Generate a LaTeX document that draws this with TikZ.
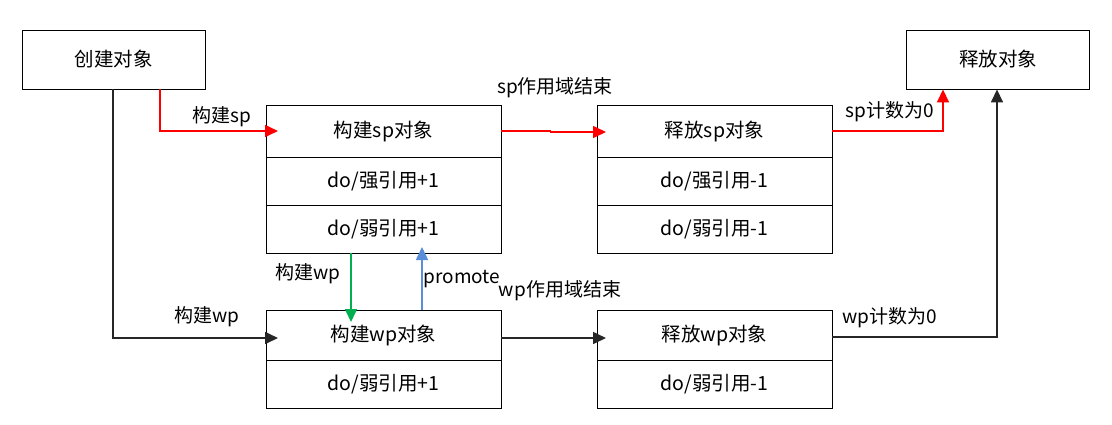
\documentclass[tikz,border=0pt]{standalone}
\usepackage{fontspec}
\setmainfont{Noto Sans CJK SC}
\usetikzlibrary{arrows.meta,positioning}
\definecolor{lred}{HTML}{FF0000}
\definecolor{lgreen}{HTML}{00B050}
\definecolor{lblue}{HTML}{5B8ED9}
\definecolor{ldark}{HTML}{262626}
\begin{document}
\begin{tikzpicture}[x=1pt,y=-1pt,
  cell/.style={draw=black,line width=0.9pt,minimum width=235pt,inner sep=0pt,font=\fontsize{19.5}{23}\selectfont},
  topbox/.style={draw=black,line width=0.9pt,minimum width=183pt,minimum height=59pt,inner sep=0pt,font=\fontsize{19.5}{23}\selectfont},
  lbl/.style={font=\fontsize{19}{23}\selectfont,inner sep=0pt},
  arr/.style={line width=1.6pt,-{Triangle[length=13pt,width=12pt]}},
]
\useasboundingbox (0,0) rectangle (1112,424);
\fill[white] (0,0) rectangle (1112,424);
% top boxes
\node[topbox] (create) at (113.5,59.5) {创建对象};
\node[topbox] (free) at (998,59.5) {释放对象};
% sp object
\node[cell,minimum height=52pt] (sp1) at (383.5,131) {构建sp对象};
\node[cell,minimum height=48pt] (sp2) at (383.5,181) {do/强引用+1};
\node[cell,minimum height=48pt] (sp3) at (383.5,229) {do/弱引用+1};
% free sp
\node[cell,minimum height=52pt] (fs1) at (714.5,131) {释放sp对象};
\node[cell,minimum height=48pt] (fs2) at (714.5,181) {do/强引用-1};
\node[cell,minimum height=48pt] (fs3) at (714.5,229) {do/弱引用-1};
% wp object
\node[cell,minimum height=50pt] (wp1) at (383.5,335) {构建wp对象};
\node[cell,minimum height=48pt] (wp2) at (383.5,384) {do/弱引用+1};
% free wp
\node[cell,minimum height=50pt] (fw1) at (714.5,335) {释放wp对象};
\node[cell,minimum height=48pt] (fw2) at (714.5,384) {do/弱引用-1};
% coordinates
\coordinate (c1) at (160,89);
\coordinate (c2) at (113,89);
\coordinate (tsp) at (278,131);
\coordinate (twp) at (278,338);
% arrows
\draw[arr,lred] (c1) |- (tsp);
\node[lbl] (lsp) at (222,117) {构建sp};
\draw[arr,lred] (sp1.east) -- ++(49,0) -- ++(0,1) -- (606,132);
\node[lbl] (lspend) at (555,88) {sp作用域结束};
\draw[arr,lred] (fs1.east) -| (free.south -| 943,0);
\node[lbl] (lspz) at (890,112) {sp计数为0};
\draw[arr,ldark] (c2) |- (twp);
\node[lbl] (lwp) at (207,317) {构建wp};
\draw[arr,lgreen] (sp3.south -| 351,0) -- (351,322);
\node[lbl] (lwp2) at (308,274) {构建wp};
\draw[arr,lblue] (wp1.north -| 422,0) -- (422,247);
\node[lbl] (lprom) at (462,279) {promote};
\draw[arr,ldark] (wp1.east |- 0,338) -- (606,338);
\node[lbl] (lwpend) at (560,291) {wp作用域结束};
\draw[arr,ldark] (fw1.east |- 0,337) -| (free.south -| 997,0);
\node[lbl] (lwpz) at (890,318) {wp计数为0};
\end{tikzpicture}
\end{document}
